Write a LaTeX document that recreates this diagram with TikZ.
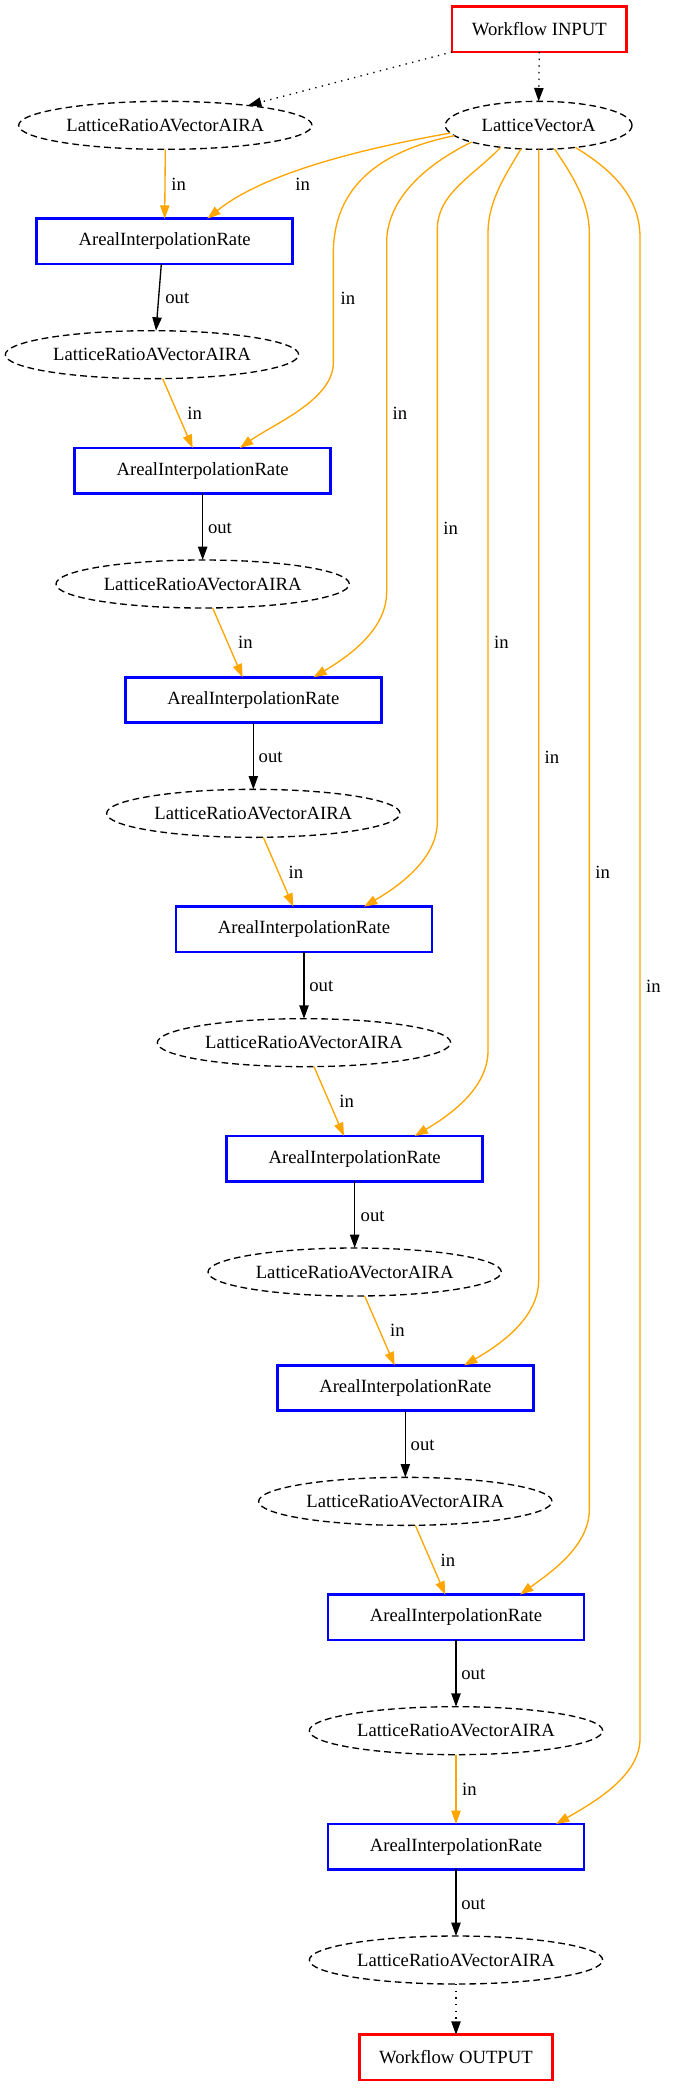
\documentclass[tikz,border=0pt]{standalone}
\usepackage{fontspec}
\setmainfont{Liberation Serif}
\usetikzlibrary{arrows.meta,shapes.geometric}
\definecolor{eorange}{HTML}{FFA500}
\begin{document}
\begin{tikzpicture}[x=1pt,y=-1pt,
  font=\fontsize{14}{16}\selectfont,
  ari/.style={draw=blue, line width=2pt, minimum width=192pt, minimum height=34pt, inner sep=0pt, outer sep=0pt},
  dat/.style={ellipse, draw=black, line width=1pt, dash pattern=on 5pt off 3pt, minimum width=220pt, minimum height=36pt, inner sep=0pt, outer sep=0pt},
  wf/.style={draw=red, line width=2pt, minimum height=34pt, inner sep=0pt, outer sep=0pt},
  tip/.style={-{Triangle[length=10pt,width=7pt]}},
  oe/.style={draw=eorange, line width=1pt, tip},
  be/.style={draw=black, line width=1pt, tip},
  de/.style={draw=black, line width=1pt, dash pattern=on 1pt off 4pt, tip},
  lbl/.style={inner sep=0pt}
]
\useasboundingbox (0,0) rectangle (505.5,1566);

% nodes
\node[wf, minimum width=131pt] (in) at (404.5,22) {Workflow INPUT};
\node[dat] (E0) at (124,94) {LatticeRatioAVectorAIRA};
\node[dat, minimum width=140pt] (LV) at (404,94) {LatticeVectorA};
\node[ari] (A1) at (123.5,181) {ArealInterpolationRate};
\node[dat] (E1) at (114,266) {LatticeRatioAVectorAIRA};
\node[ari] (A2) at (152,353) {ArealInterpolationRate};
\node[dat] (E2) at (152,438) {LatticeRatioAVectorAIRA};
\node[ari] (A3) at (190,525) {ArealInterpolationRate};
\node[dat] (E3) at (190,610) {LatticeRatioAVectorAIRA};
\node[ari] (A4) at (228,697) {ArealInterpolationRate};
\node[dat] (E4) at (228,782) {LatticeRatioAVectorAIRA};
\node[ari] (A5) at (266,869) {ArealInterpolationRate};
\node[dat] (E5) at (266,954) {LatticeRatioAVectorAIRA};
\node[ari] (A6) at (304,1041) {ArealInterpolationRate};
\node[dat] (E6) at (304,1126) {LatticeRatioAVectorAIRA};
\node[ari] (A7) at (342,1213) {ArealInterpolationRate};
\node[dat] (E7) at (342,1298) {LatticeRatioAVectorAIRA};
\node[ari] (A8) at (342,1385) {ArealInterpolationRate};
\node[dat] (E8) at (342,1470) {LatticeRatioAVectorAIRA};
\node[wf, minimum width=145pt] (out) at (342,1543) {Workflow OUTPUT};

% workflow edges
\draw[de] (in.south west) -- ([xshift=62pt,yshift=-3.1pt]E0.north);
\draw[de] (in.south) -- (LV.north);
\draw[de] (E8.south) -- (out.north);

% chain edges
\draw[oe] (E0.south) -- (A1.north);
\draw[be] ([xshift=-2.5pt]A1.south) -- ([xshift=3pt]E1.north);
\draw[oe] ([xshift=8pt]E1.south) -- ([xshift=-7.5pt]A2.north);
\draw[be] (A2.south) -- (E2.north);
\draw[oe] ([xshift=7.5pt]E2.south) -- ([xshift=-8pt]A3.north);
\draw[be] (A3.south) -- (E3.north);
\draw[oe] ([xshift=7.5pt]E3.south) -- ([xshift=-8pt]A4.north);
\draw[be] (A4.south) -- (E4.north);
\draw[oe] ([xshift=7.5pt]E4.south) -- ([xshift=-8pt]A5.north);
\draw[be] (A5.south) -- (E5.north);
\draw[oe] ([xshift=7.5pt]E5.south) -- ([xshift=-8pt]A6.north);
\draw[be] (A6.south) -- (E6.north);
\draw[oe] ([xshift=7.5pt]E6.south) -- ([xshift=-8pt]A7.north);
\draw[be] (A7.south) -- (E7.north);
\draw[oe] (E7.south) -- (A8.north);
\draw[be] (A8.south) -- (E8.north);

% LatticeVectorA fan-out
\draw[oe] (LV.185) .. controls (280,110) and (200,128) .. ([xshift=32pt]A1.north);
\draw[oe] (LV.187) .. controls (285,113) and (250,140) .. (250,190) -- (250,272)
  .. controls (250,300) and (205,318) .. ([xshift=28pt]A2.north);
\draw[oe] (LV.194) .. controls (318,124) and (290,150) .. (290,182) -- (290,444)
  .. controls (290,472) and (262,492) .. ([xshift=45pt]A3.north);
\draw[oe] (LV.210) .. controls (355,132) and (328,145) .. (328,172) -- (328,616)
  .. controls (328,644) and (300,664) .. ([xshift=45pt]A4.north);
\draw[oe] (LV.233) .. controls (380,130) and (366,150) .. (366,175) -- (366,788)
  .. controls (366,816) and (338,836) .. ([xshift=45pt]A5.north);
\draw[oe] (LV.270) -- (404,960)
  .. controls (404,988) and (376,1008) .. ([xshift=44pt]A6.north);
\draw[oe] (LV.304) .. controls (428,130) and (442,150) .. (442,175) -- (442,1132)
  .. controls (442,1160) and (412,1180) .. ([xshift=48pt]A7.north);
\draw[oe] (LV.329) .. controls (455,125) and (480,145) .. (480,178) -- (480,1304)
  .. controls (480,1332) and (445,1352) .. ([xshift=75pt]A8.north);

% labels
\node[lbl] (l1) at (134,138) {in};
\node[lbl] (l2) at (227,138) {in};
\node[lbl] (l3) at (133,224) {out};
\node[lbl] (l4) at (261,224) {in};
\node[lbl] (l5) at (146,310) {in};
\node[lbl] (l6) at (300,310) {in};
\node[lbl] (l7) at (165,396) {out};
\node[lbl] (l8) at (338,396) {in};
\node[lbl] (l9) at (184,482) {in};
\node[lbl] (l10) at (376,482) {in};
\node[lbl] (l11) at (203,568) {out};
\node[lbl] (l12) at (414,568) {in};
\node[lbl] (l13) at (222,654) {in};
\node[lbl] (l14) at (452,654) {in};
\node[lbl] (l15) at (241,740) {out};
\node[lbl] (l16) at (490,740) {in};
\node[lbl] (l17) at (260,826) {in};
\node[lbl] (l18) at (279.5,912) {out};
\node[lbl] (l19) at (298,998) {in};
\node[lbl] (l20) at (317,1084) {out};
\node[lbl] (l21) at (336,1170) {in};
\node[lbl] (l22) at (355,1256) {out};
\node[lbl] (l23) at (352,1342) {in};
\node[lbl] (l24) at (355,1428) {out};
\end{tikzpicture}
\end{document}
